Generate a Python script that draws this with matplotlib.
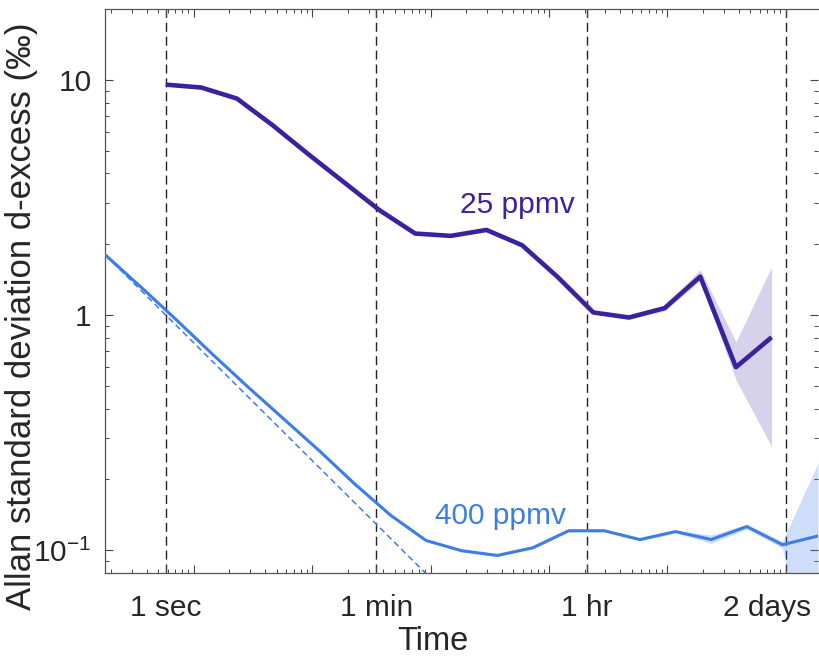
import matplotlib
matplotlib.use('Agg')
import matplotlib.pyplot as plt
import numpy as np
from matplotlib.transforms import ScaledTranslation

plt.rcParams['font.family'] = ['Liberation Sans', 'DejaVu Sans']
plt.rcParams['mathtext.fontset'] = 'custom'
plt.rcParams['mathtext.rm'] = 'Liberation Sans'

# averaging times (s) and Allan deviations
tau_25 = [1, 2, 4, 8, 16, 32, 64, 128, 256, 512, 1024, 2048, 4096, 8192,
          16384, 32768, 65536, 131072]
sig_25 = [9.54, 9.27, 8.32, 6.41, 4.83, 3.67, 2.79, 2.22, 2.17, 2.30, 1.98,
          1.45, 1.025, 0.976, 1.07, 1.457, 0.60, 0.804]
hi_25 = [9.6, 9.33, 8.38, 6.46, 4.87, 3.70, 2.81, 2.24, 2.19, 2.32, 2.0,
         1.47, 1.04, 0.99, 1.10, 1.56, 0.77, 1.60]
lo_25 = [9.48, 9.21, 8.26, 6.36, 4.79, 3.64, 2.77, 2.20, 2.15, 2.28, 1.96,
         1.43, 1.01, 0.96, 1.04, 1.40, 0.53, 0.276]

tau_400 = [0.309, 0.618, 1.236, 2.47, 4.94, 9.89, 19.8, 39.6, 79.1, 158, 316,
           633, 1266, 2531, 5063, 10125, 20250, 40500, 81000, 162000, 324000]
sig_400 = [1.8, 1.315, 0.952, 0.683, 0.495, 0.362, 0.265, 0.191, 0.141, 0.110,
           0.0995, 0.095, 0.1025, 0.121, 0.121, 0.111, 0.120, 0.111, 0.126,
           0.1055, 0.115]
hi_400 = [1.82, 1.33, 0.96, 0.69, 0.5, 0.366, 0.268, 0.193, 0.1425, 0.111,
          0.1005, 0.096, 0.1035, 0.1225, 0.1225, 0.1125, 0.1215, 0.116, 0.129,
          0.109, 0.235]
lo_400 = [1.78, 1.30, 0.944, 0.676, 0.49, 0.358, 0.262, 0.189, 0.1395, 0.109,
          0.0985, 0.094, 0.1015, 0.1195, 0.1195, 0.1095, 0.1185, 0.107, 0.123,
          0.102, 0.02]

# white-noise reference (slope -1/2)
ref_tau = [0.309, 1000]
ref_sig = [1.8, 0.0316]

mark_tau = [1, 60, 3600, 172800]
mark_lbl = ['1 sec', '1 min', '1 hr', '2 days']

purple = (0.23, 0.13, 0.62)
blue = (0.24, 0.49, 0.90)
dark = '#262626'

fig = plt.figure(figsize=(8.19, 6.57), dpi=100)
ax = fig.add_axes([105.3/819, 84/657, (818.1-105.3)/819, 564/657])
ax.set_xscale('log')
ax.set_yscale('log')

for t in mark_tau:
    ax.axvline(t, color='#222222', lw=1.0, dashes=(6.5, 3.5), zorder=1)

ax.fill_between(tau_25, lo_25, hi_25, color=purple, alpha=0.2, lw=0, zorder=2)
ax.fill_between(tau_400, lo_400, hi_400, color=blue, alpha=0.25, lw=0, zorder=2)
ax.plot(ref_tau, ref_sig, color=blue, lw=1.1, dashes=(4, 2.5), zorder=3)
ax.plot(tau_400, sig_400, color=blue, lw=2.2, zorder=4)
ax.plot(tau_25, sig_25, color=purple, lw=3.3, zorder=5, solid_capstyle='butt')

ax.text(0.498, 0.639, '25 ppmv', transform=ax.transAxes, color=purple,
        fontsize=21.5, va='baseline', ha='left')
ax.text(0.462, 0.087, '400 ppmv', transform=ax.transAxes, color=blue,
        fontsize=21.5, va='baseline', ha='left')

decades = [1.728 * 10.0**k for k in range(-1, 6)]
major = sorted(set(mark_tau + decades[:-1]))
labels = [mark_lbl[mark_tau.index(t)] if t in mark_tau else '' for t in major]
ax.set_xticks(major)
ax.set_xticklabels(labels)
ax.set_xticks([d * m for d in decades for m in range(2, 10)], minor=True)
ax.xaxis.set_minor_formatter(plt.NullFormatter())

ax.set_yticks([0.1, 1, 10])
ax.set_yticklabels([r'$\mathregular{10^{-1}}$', '1', '10'])
ax.set_yticks([d * m for d in [0.01, 0.1, 1, 10] for m in range(2, 10)], minor=True)
ax.yaxis.set_minor_formatter(plt.NullFormatter())

ax.set_xlim(tau_400[0], tau_400[-1])
ax.set_ylim(0.08, 20)

ax.tick_params(which='both', direction='in', top=True, right=True,
               color='#444444', labelcolor=dark, labelsize=21.5)
ax.tick_params(which='major', length=5.5, width=0.8)
ax.tick_params(which='minor', length=2.8, width=0.7)
ax.tick_params(axis='x', pad=15)
ax.tick_params(axis='y', pad=10)

for s in ax.spines.values():
    s.set_color('#555555')
    s.set_linewidth(0.9)
ax.spines['right'].set_visible(False)

for lab in ax.get_xticklabels():
    if lab.get_text() == '2 days':
        lab.set_transform(lab.get_transform() + ScaledTranslation(-0.19, 0, fig.dpi_scale_trans))

ax.set_xlabel('Time', fontsize=23.5, color=dark)
ax.xaxis.set_label_coords(0.459, -0.094)
ax.set_ylabel('Allan standard deviation d-excess (‰)', fontsize=25, color=dark)
ax.yaxis.set_label_coords(-0.094, 0.456)

fig.savefig('out.png', dpi=100)
